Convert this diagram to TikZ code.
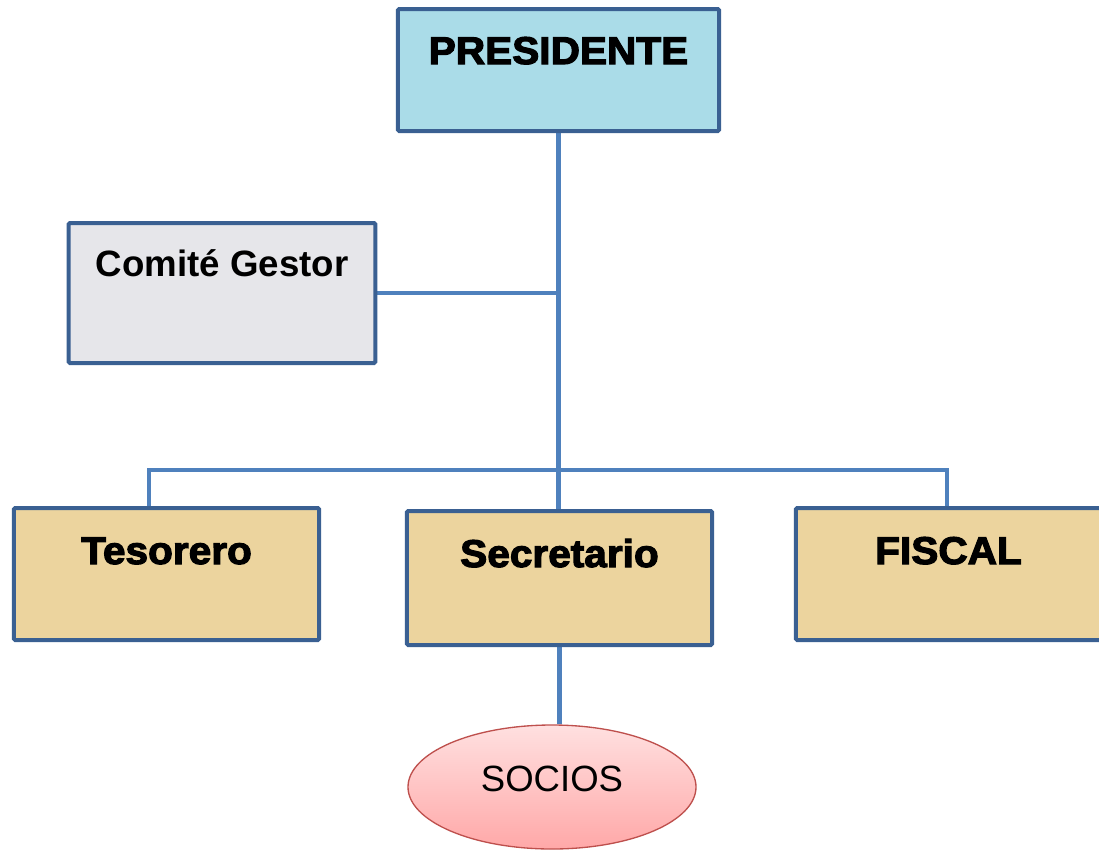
\documentclass[tikz,border=0pt]{standalone}
\usepackage{fontspec}
\setmainfont{Liberation Sans}
\newfontfamily\negra{Liberation Sans Bold}[FakeBold=3,FakeStretch=1.05]
\usetikzlibrary{backgrounds,shapes.geometric}
\definecolor{borde}{RGB}{58,96,146}
\definecolor{linea}{RGB}{79,129,189}
\definecolor{agua}{RGB}{170,220,232}
\definecolor{marmol}{RGB}{230,230,234}
\definecolor{papiro}{RGB}{236,212,158}
\definecolor{rosa}{RGB}{255,168,168}
\definecolor{rosaclaro}{RGB}{255,224,224}
\definecolor{rojo}{RGB}{190,80,77}
\tikzstyle{block} = [draw=borde, line width=3pt, rectangle, rounded corners=1pt, inner sep=0pt, align=center]
\tikzstyle{cargo} = [block, fill=papiro, minimum width=229pt, text height=42pt, text depth=57pt, font=\negra\fontsize{29}{34}\selectfont]
\tikzstyle{enlace} = [draw=linea, line width=3.2pt]

\begin{document}
\begin{tikzpicture}[x=0.75pt, y=-0.75pt]
\useasboundingbox (0,0) rectangle (1099,850);

\node [block, fill=agua, minimum width=241pt, text height=41.25pt, text depth=50.25pt, font=\negra\fontsize{29}{34}\selectfont] (pres) at (558.5,70) {PRESIDENTE};
\node [block, fill=marmol, minimum width=230pt, text height=39.75pt, text depth=65.25pt, font=\bfseries\fontsize{27.5}{33}\selectfont] (com) at (222,293) {Comité Gestor};
\node [cargo] (tes) at (166.5,574) {Tesorero};
\node [cargo, text depth=58.5pt] (sec) at (559.5,578) {Secretario};
\node [cargo] (fis) at (948.5,574) {FISCAL};
\node [ellipse, draw=rojo, line width=1pt, top color=rosaclaro, bottom color=rosa, minimum width=216pt, minimum height=93pt, inner sep=0pt, text height=19.5pt, text depth=13.5pt, font=\fontsize{27.4}{33}\selectfont] (soc) at (552,787) {SOCIOS};

\coordinate (barra) at (558.5,470);

\begin{scope}[on background layer]
\draw [enlace] (pres.south) -- (pres.south |- sec.north);
\draw [enlace] (com.east) -- (com.east -| pres.south);
\draw [enlace] ([xshift=-13pt]tes.north) |- (barra) -| ([xshift=-1pt]fis.north);
\draw [enlace] (sec.south) -- (sec.south |- soc.north);
\end{scope}

\end{tikzpicture}
\end{document}
